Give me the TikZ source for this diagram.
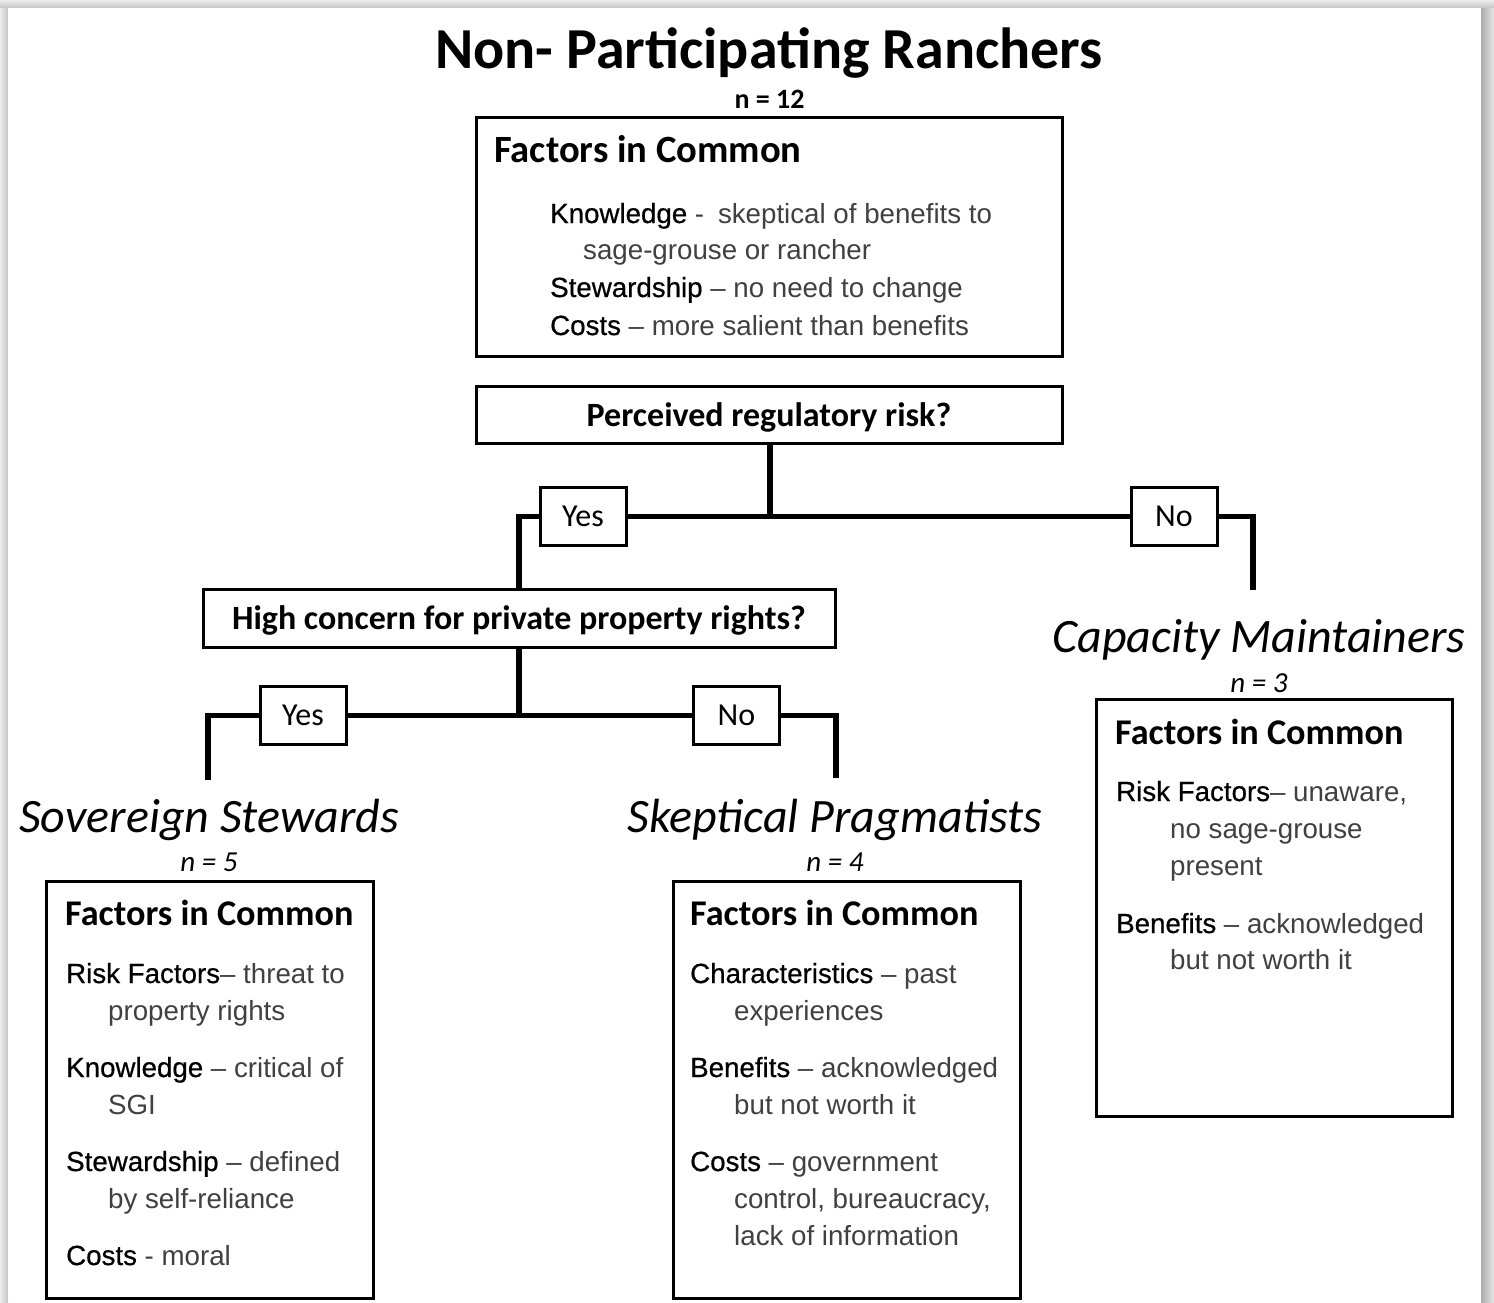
\documentclass[tikz,border=0pt]{standalone}
\usepackage{fontspec}
\newfontfamily\headfont{Carlito}
\newfontfamily\bodyfont{Liberation Sans}
\newfontfamily\keyfont[FakeBold=0.6]{Liberation Sans}
\newcommand\kw[1]{{\keyfont\textcolor{black}{#1}}}
\begin{document}
\begin{tikzpicture}[x=1pt,y=-1pt,
  box/.style={draw=black, line width=3pt, inner sep=0pt, fill=white},
  tag/.style={box, minimum width=86pt, minimum height=58pt, text depth=0pt,
    font=\headfont\fontsize{32}{34}\selectfont},
  question/.style={box, text depth=0pt, font=\headfont\bfseries\fontsize{34}{36}\selectfont},
  link/.style={line width=5.5pt},
  heading/.style={anchor=base west, inner sep=0pt, font=\headfont\bfseries\fontsize{36.2}{40}\selectfont},
  item/.style={anchor=base west, inner sep=0pt, font=\bodyfont\fontsize{27.7}{30}\selectfont, text=black!75},
  group/.style={anchor=base, inner sep=0pt, font=\headfont\itshape\fontsize{48}{50}\selectfont},
  count/.style={anchor=base, inner sep=0pt, font=\headfont\itshape\fontsize{29}{30}\selectfont},
]
\useasboundingbox (0,0) rectangle (1494,1302);

% page with soft drop shadow
\fill[gray!40] (0,0) rectangle (1494,1302);
\shade[top color=gray!15, bottom color=gray!45] (0,0) rectangle (1494,8);
\shade[left color=gray!15, right color=gray!45] (0,8) rectangle (8,1302);
\shade[left color=gray!65, right color=gray!20] (1481,8) rectangle (1494,1302);
\fill[white] (8,8) rectangle (1481,1302);

% title
\node[anchor=base, inner sep=0pt, font=\headfont\bfseries\fontsize{58}{60}\selectfont] (title) at (769,68) {Non- Participating Ranchers};
\node[anchor=base, inner sep=0pt, font=\headfont\bfseries\fontsize{28}{30}\selectfont] (ntotal) at (769.5,108) {n = 12};

% boxes
\node[box, minimum width=586pt, minimum height=239pt] (common) at (769,236.5) {};
\node[question, minimum width=586pt, minimum height=57pt] (risk) at (769,414.5) {Perceived regulatory risk?};
\node[question, minimum width=632pt, minimum height=58pt] (property) at (519,618) {High concern for private property rights?};
\node[box, minimum width=327pt, minimum height=417pt] (ssbox) at (209.5,1089.5) {};
\node[box, minimum width=347pt, minimum height=417pt] (spbox) at (846.5,1089.5) {};
\node[box, minimum width=356pt, minimum height=417pt] (cmbox) at (1274,907.5) {};

% decision tags
\node[tag] (yesA) at (583,516.5) {Yes};
\node[tag] (noA) at (1174,516.5) {No};
\node[tag] (yesB) at (303,715.5) {Yes};
\node[tag] (noB) at (736.5,715.5) {No};

% junctions and free ends
\coordinate (jA) at (770,516.5);
\coordinate (jB) at (519,715.5);
\coordinate (cmend) at (1253,590);
\coordinate (ssend) at (208,780);
\coordinate (spend) at (836,778);

% connectors
\draw[link] (risk.south -| jA) -- (jA);
\draw[link] (yesA.east) -- (noA.west);
\draw[link] (yesA.west) -| (property.north);
\draw[link] (noA.east) -| (cmend);
\draw[link] (property.south) -- (jB);
\draw[link] (yesB.east) -- (noB.west);
\draw[link] (yesB.west) -| (ssend);
\draw[link] (noB.east) -| (spend);

% shared factors
\node[heading, font=\headfont\bfseries\fontsize{38.6}{40}\selectfont] (hcommon) at (494,162) {Factors in Common};
\node[item] (c1) at (550,223) {\kw{Knowledge} -\enspace skeptical of benefits to};
\node[item] (c2) at (583,259) {sage-grouse or rancher};
\node[item] (c3) at (550,297) {\kw{Stewardship} – no need to change};
\node[item] (c4) at (550,335) {\kw{Costs} – more salient than benefits};

% Sovereign Stewards
\node[group] (ss) at (209,832) {Sovereign Stewards};
\node[count] (ssn) at (209,871) {n = 5};
\node[heading] (hss) at (65,925) {Factors in Common};
\node[item] (s1) at (66,983) {\kw{Risk Factors}– threat to};
\node[item] (s2) at (108,1020) {property rights};
\node[item] (s3) at (66,1077) {\kw{Knowledge} – critical of};
\node[item] (s4) at (108,1114) {SGI};
\node[item] (s5) at (66,1171) {\kw{Stewardship} – defined};
\node[item] (s6) at (108,1208) {by self-reliance};
\node[item] (s7) at (66,1265) {\kw{Costs} - moral};

% Skeptical Pragmatists
\node[group] (sp) at (835,832) {Skeptical Pragmatists};
\node[count] (spn) at (835,871) {n = 4};
\node[heading] (hsp) at (690,925) {Factors in Common};
\node[item] (p1) at (690,983) {\kw{Characteristics} – past};
\node[item] (p2) at (734,1020) {experiences};
\node[item] (p3) at (690,1077) {\kw{Benefits} – acknowledged};
\node[item] (p4) at (734,1114) {but not worth it};
\node[item] (p5) at (690,1171) {\kw{Costs} – government};
\node[item] (p6) at (734,1208) {control, bureaucracy,};
\node[item] (p7) at (734,1245) {lack of information};

% Capacity Maintainers
\node[group] (cm) at (1259,652) {Capacity Maintainers};
\node[count] (cmn) at (1259,692) {n = 3};
\node[heading] (hcm) at (1115,744) {Factors in Common};
\node[item] (m1) at (1116,801) {\kw{Risk Factors}– unaware,};
\node[item] (m2) at (1170,838) {no sage-grouse};
\node[item] (m3) at (1170,875) {present};
\node[item] (m4) at (1116,933) {\kw{Benefits} – acknowledged};
\node[item] (m5) at (1170,969) {but not worth it};
\end{tikzpicture}
\end{document}
